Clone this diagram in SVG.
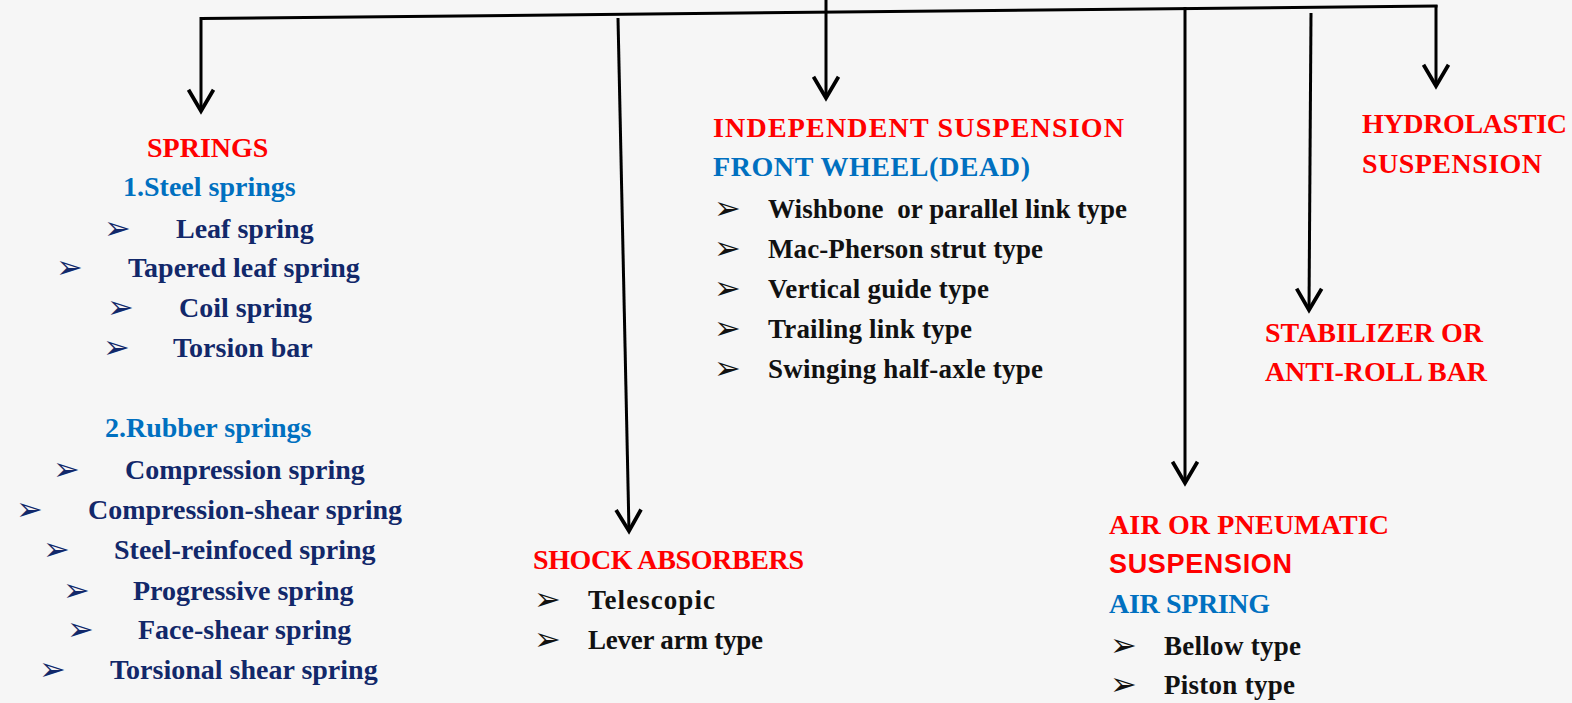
<svg xmlns="http://www.w3.org/2000/svg" width="1572" height="703" viewBox="0 0 1572 703">
<defs>
<style>
.bg{fill:#F6F6F6}
.ln{stroke:#000;stroke-width:3;fill:none}
.t{font-family:"Liberation Serif","Times New Roman",serif;font-weight:bold}
.l{font-size:28px;fill:#12286A}
.red{fill:#FF0000}
.blue{fill:#0070C0}
.blk{fill:#111111}
.h{font-size:28px}
.i{font-size:27px}
.ar{font-family:"Liberation Sans",Arial,sans-serif;font-weight:bold;font-size:27px;fill:#FF0000}
.b{font-family:"DejaVu Sans",sans-serif;font-size:32px}
.bn{fill:#12286A}
.bk{fill:#111111}
</style>
<marker id="arr" markerUnits="userSpaceOnUse" markerWidth="30" markerHeight="30" viewBox="-20 -12 22 24" refX="0" refY="0" orient="auto">
<path d="M-17,-10 L0,0 L-17,10" fill="none" stroke="#000" stroke-width="3" stroke-linejoin="miter"/>
</marker>
</defs>
<rect class="bg" x="0" y="0" width="1572" height="703"/>

<g id="connectors">
<line class="ln" x1="201" y1="18.5" x2="1437.5" y2="6"/>
<line class="ln" x1="826" y1="0" x2="826" y2="98" marker-end="url(#arr)"/>
<line class="ln" x1="201" y1="17" x2="201" y2="111" marker-end="url(#arr)"/>
<line class="ln" x1="618" y1="18" x2="629" y2="531" marker-end="url(#arr)"/>
<line class="ln" x1="1185" y1="7" x2="1185" y2="483" marker-end="url(#arr)"/>
<line class="ln" x1="1311" y1="13" x2="1309" y2="310" marker-end="url(#arr)"/>
<line class="ln" x1="1436" y1="5" x2="1436" y2="86" marker-end="url(#arr)"/>
</g>

<g id="springs">
<text class="t l red" x="147" y="157" style="fill:#FF0000">SPRINGS</text>
<text class="t l blue" x="123" y="196" style="fill:#0070C0">1.Steel springs</text>
<text class="b bn" x="104" y="239">➢</text><text class="t l" x="176" y="238">Leaf spring</text>
<text class="b bn" x="56" y="278">➢</text><text class="t l" x="128" y="277">Tapered leaf spring</text>
<text class="b bn" x="107" y="318">➢</text><text class="t l" x="179" y="317">Coil spring</text>
<text class="b bn" x="103" y="358">➢</text><text class="t l" x="173" y="357">Torsion bar</text>
<text class="t l blue" x="105" y="437" style="fill:#0070C0">2.Rubber springs</text>
<text class="b bn" x="53" y="480">➢</text><text class="t l" x="125" y="479">Compression spring</text>
<text class="b bn" x="16" y="520">➢</text><text class="t l" x="88" y="519">Compression-shear spring</text>
<text class="b bn" x="43" y="560">➢</text><text class="t l" x="114" y="559">Steel-reinfoced spring</text>
<text class="b bn" x="63" y="601">➢</text><text class="t l" x="133" y="600">Progressive spring</text>
<text class="b bn" x="67" y="640">➢</text><text class="t l" x="138" y="639">Face-shear spring</text>
<text class="b bn" x="39" y="680">➢</text><text class="t l" x="110" y="679">Torsional shear spring</text>
</g>

<g id="independent-suspension">
<text class="t h red" x="713" y="137" textLength="411">INDEPENDENT SUSPENSION</text>
<text class="t h blue" x="713" y="176" textLength="317">FRONT WHEEL(DEAD)</text>
<text class="b bk" x="714" y="219">➢</text><text class="t i blk" x="768" y="218" textLength="359" style="white-space:pre">Wishbone  or parallel link type</text>
<text class="b bk" x="714" y="259">➢</text><text class="t i blk" x="768" y="258" textLength="275">Mac-Pherson strut type</text>
<text class="b bk" x="714" y="299">➢</text><text class="t i blk" x="768" y="298" textLength="221">Vertical guide type</text>
<text class="b bk" x="714" y="339">➢</text><text class="t i blk" x="768" y="338" textLength="204">Trailing link type</text>
<text class="b bk" x="714" y="379">➢</text><text class="t i blk" x="768" y="378" textLength="275">Swinging half-axle type</text>
</g>

<g id="shock-absorbers">
<text class="t h red" x="533" y="569" textLength="271">SHOCK ABSORBERS</text>
<text class="b bk" x="534" y="610">➢</text><text class="t i blk" x="588" y="609" textLength="127">Telescopic</text>
<text class="b bk" x="534" y="650">➢</text><text class="t i blk" x="588" y="649" textLength="175">Lever arm type</text>
</g>

<g id="hydrolastic">
<text class="t h red" x="1362" y="133" textLength="205">HYDROLASTIC</text>
<text class="t h red" x="1362" y="173" textLength="180">SUSPENSION</text>
</g>

<g id="stabilizer">
<text class="t h red" x="1265" y="342" textLength="218">STABILIZER OR</text>
<text class="t h red" x="1265" y="381" textLength="222">ANTI-ROLL BAR</text>
</g>

<g id="air-suspension">
<text class="t h red" x="1109" y="534" textLength="280">AIR OR PNEUMATIC</text>
<text class="ar" x="1109" y="573" textLength="183">SUSPENSION</text>
<text class="t h blue" x="1109" y="613" textLength="161">AIR SPRING</text>
<text class="b bk" x="1110" y="656">➢</text><text class="t i blk" x="1164" y="655" textLength="137">Bellow type</text>
<text class="b bk" x="1110" y="695">➢</text><text class="t i blk" x="1164" y="694" textLength="131">Piston type</text>
</g>
</svg>
